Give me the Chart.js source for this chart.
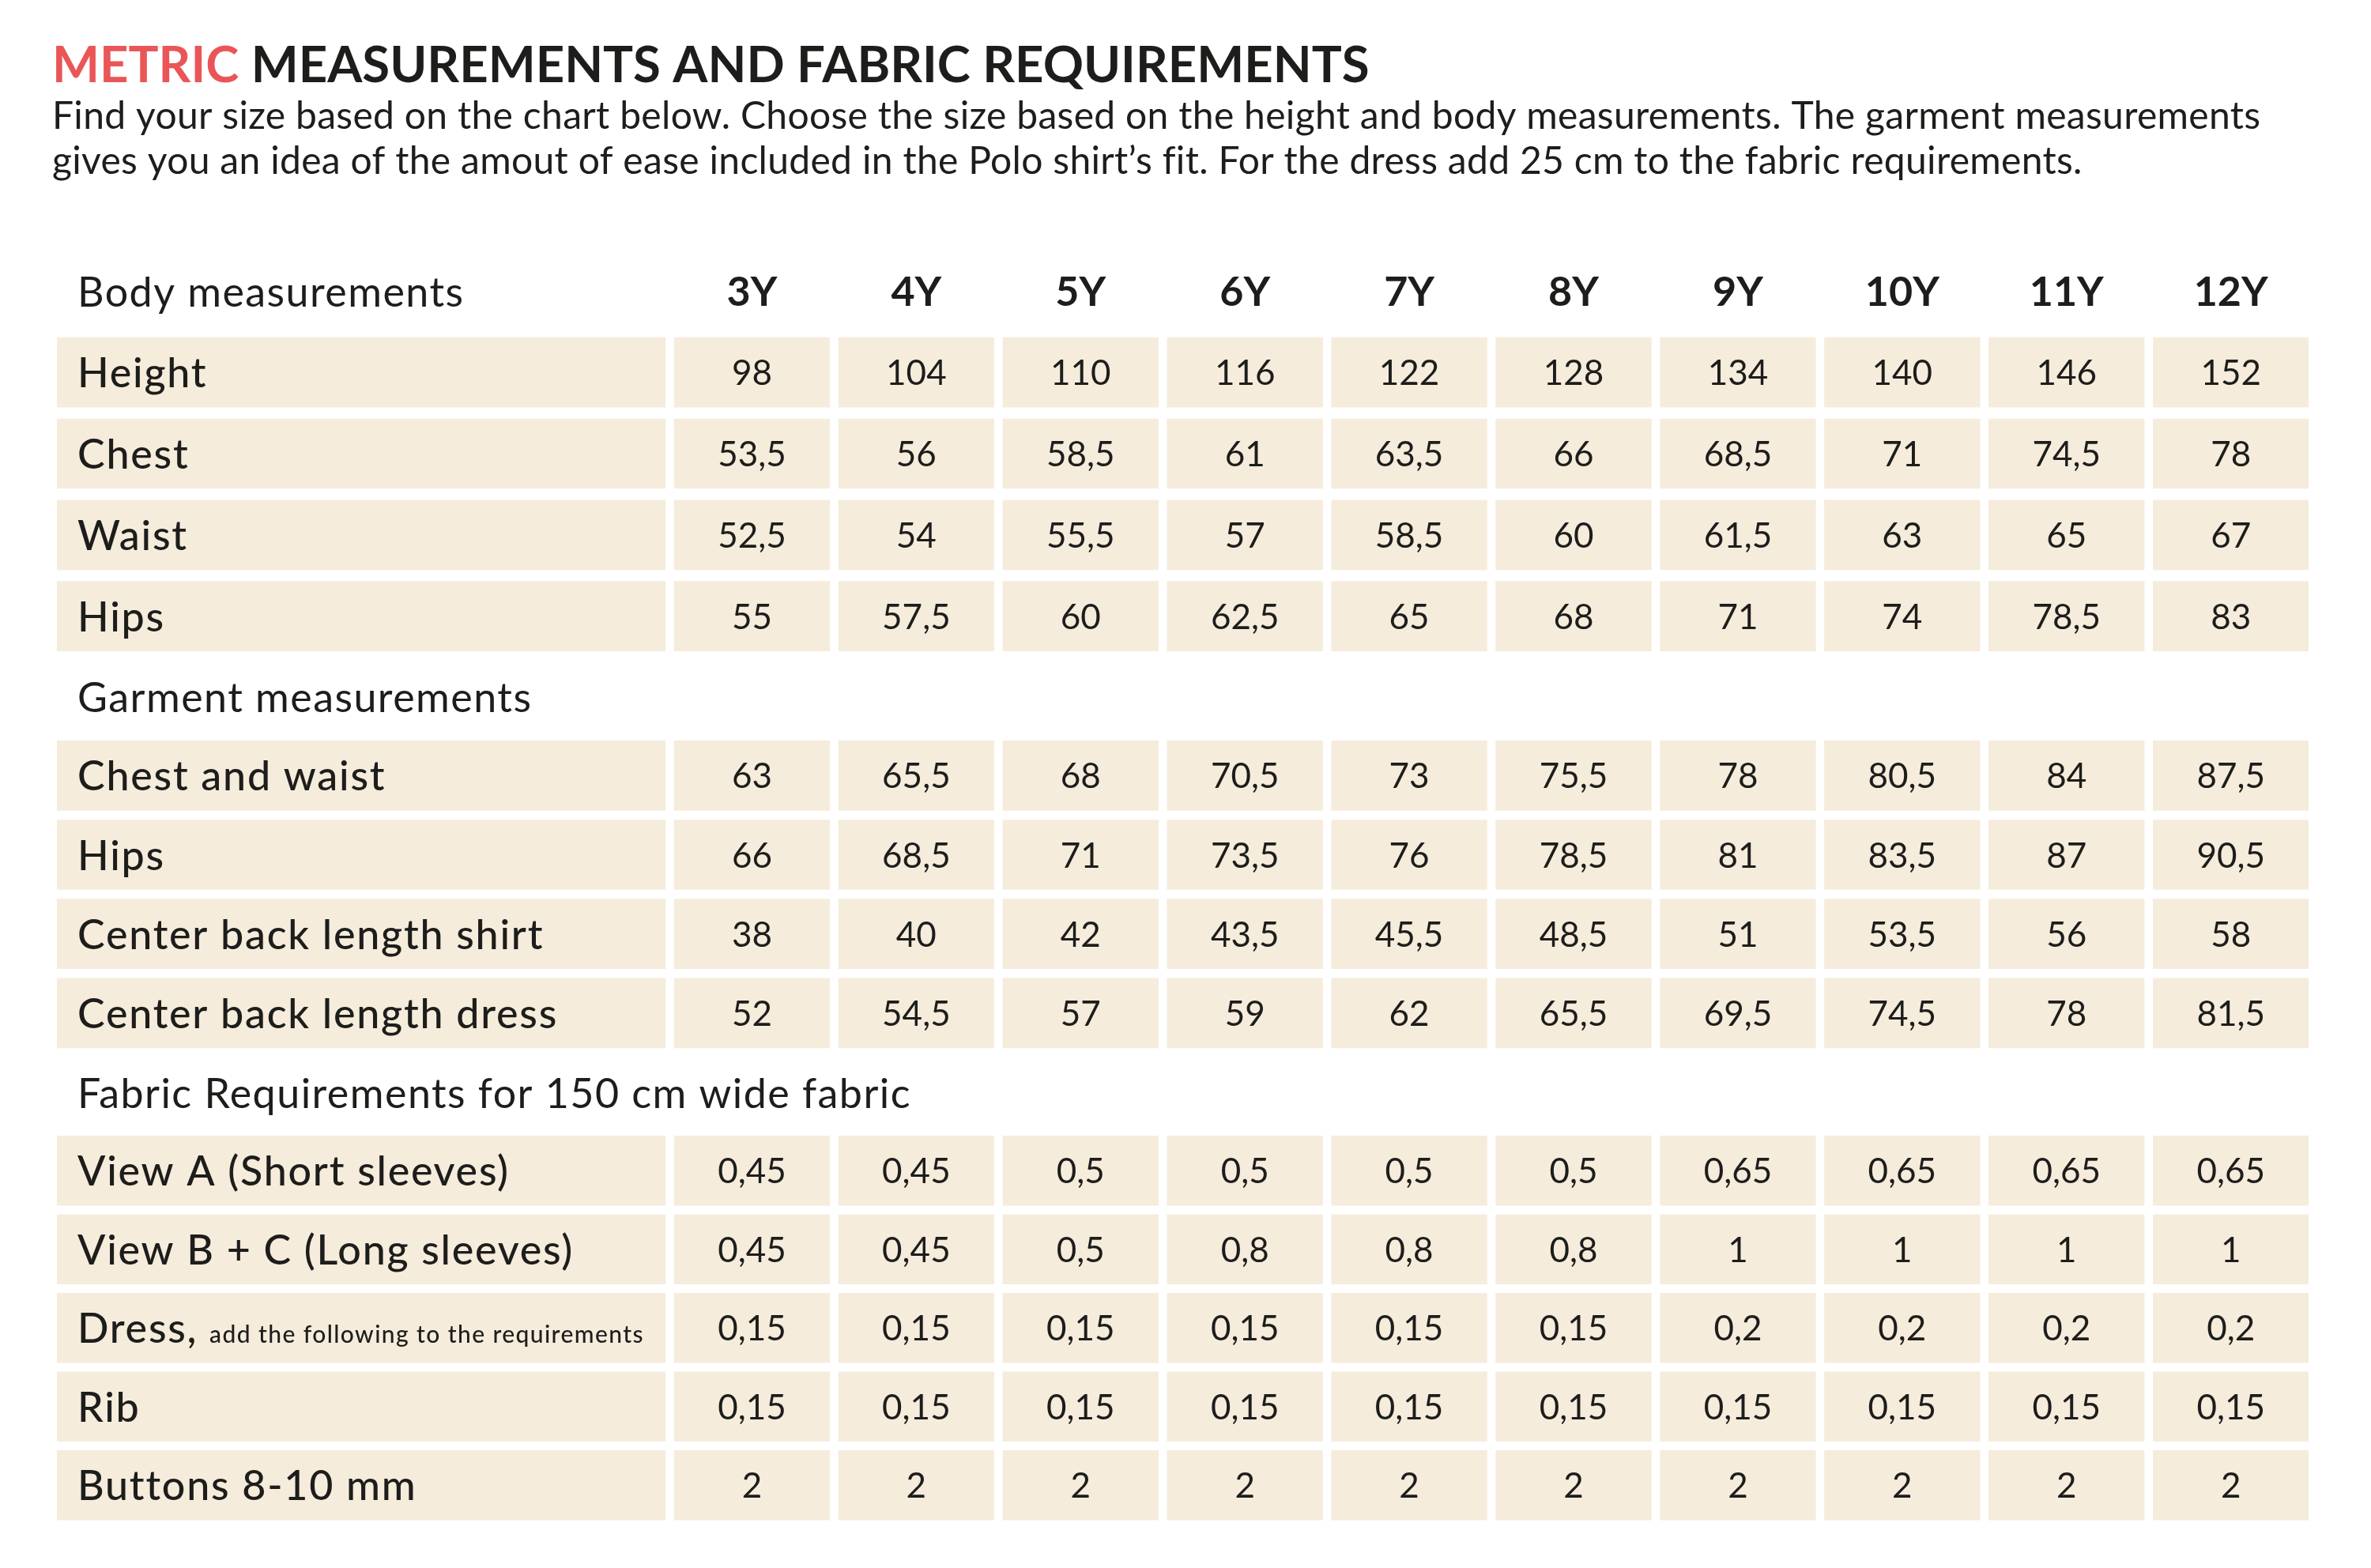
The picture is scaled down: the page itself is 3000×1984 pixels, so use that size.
<!DOCTYPE html>
<html>
<head>
<meta charset="utf-8">
<title>Metric measurements and fabric requirements</title>
<script src="https://cdn.jsdelivr.net/npm/chart.js@4.4.1/dist/chart.umd.min.js"></script>
<style>
  html, body { margin: 0; padding: 0; background: #fff; }
  #wrap { position: relative; width: 3000px; height: 1984px; }
</style>
</head>
<body>
<div id="wrap"><canvas id="sizeChart"></canvas></div>
<script>
// sizes (column headers)
var sizes = ['3Y', '4Y', '5Y', '6Y', '7Y', '8Y', '9Y', '10Y', '11Y', '12Y'];

// body measurements (cm)
var height = [98, 104, 110, 116, 122, 128, 134, 140, 146, 152];
var chest  = [53.5, 56, 58.5, 61, 63.5, 66, 68.5, 71, 74.5, 78];
var waist  = [52.5, 54, 55.5, 57, 58.5, 60, 61.5, 63, 65, 67];
var hips   = [55, 57.5, 60, 62.5, 65, 68, 71, 74, 78.5, 83];

// garment measurements (cm)
var garmentChestWaist = [63, 65.5, 68, 70.5, 73, 75.5, 78, 80.5, 84, 87.5];
var garmentHips       = [66, 68.5, 71, 73.5, 76, 78.5, 81, 83.5, 87, 90.5];
var backLengthShirt   = [38, 40, 42, 43.5, 45.5, 48.5, 51, 53.5, 56, 58];
var backLengthDress   = [52, 54.5, 57, 59, 62, 65.5, 69.5, 74.5, 78, 81.5];

// fabric requirements (m, 150 cm wide fabric)
var viewA   = [0.45, 0.45, 0.5, 0.5, 0.5, 0.5, 0.65, 0.65, 0.65, 0.65];
var viewBC  = [0.45, 0.45, 0.5, 0.8, 0.8, 0.8, 1, 1, 1, 1];
var dress   = [0.15, 0.15, 0.15, 0.15, 0.15, 0.15, 0.2, 0.2, 0.2, 0.2];
var rib     = [0.15, 0.15, 0.15, 0.15, 0.15, 0.15, 0.15, 0.15, 0.15, 0.15];
var buttons = [2, 2, 2, 2, 2, 2, 2, 2, 2, 2];

// three blocks, each on its own stacked category axis
var sections = [
  { id: 'yA', weight: 514, rows: [
    { head: 'Body measurements', sizes: true },
    { label: 'Height', values: height },
    { label: 'Chest', values: chest },
    { label: 'Waist', values: waist },
    { label: 'Hips', values: hips }
  ] },
  { id: 'yB', weight: 501, rows: [
    { head: 'Garment measurements' },
    { label: 'Chest and waist', values: garmentChestWaist },
    { label: 'Hips', values: garmentHips },
    { label: 'Center back length shirt', values: backLengthShirt },
    { label: 'Center back length dress', values: backLengthDress }
  ] },
  { id: 'yC', weight: 597, rows: [
    { head: 'Fabric Requirements for 150 cm wide fabric' },
    { label: 'View A (Short sleeves)', values: viewA },
    { label: 'View B + C (Long sleeves)', values: viewBC },
    { label: 'Dress,', note: 'add the following to the requirements', values: dress },
    { label: 'Rib', values: rib },
    { label: 'Buttons 8-10 mm', values: buttons }
  ] }
];

var CELL = '#f5ecdc';
var INK = '#1d1d1b';
var RED = '#ea5657';
var FONT = 'Lato, "Open Sans", sans-serif';
var gap = 0.027;        // half gap between cells, in column units
var labelStart = -3.73; // first (label) column starts here
var cellHeight = 88;

function fmt(v) { return String(v).replace('.', ','); }

// per block: one dataset for the label column, one for each size column
var datasets = [];
sections.forEach(function (sec) {
  datasets.push({
    yAxisID: sec.id,
    data: sec.rows.map(function (r) { return r.values ? [labelStart, -gap] : null; }),
    backgroundColor: CELL,
    grouped: false
  });
  sizes.forEach(function (s, c) {
    datasets.push({
      label: s,
      yAxisID: sec.id,
      data: sec.rows.map(function (r) { return r.values ? [c + gap, c + 1 - gap] : null; }),
      backgroundColor: CELL,
      grouped: false
    });
  });
});

var scales = {
  x: { type: 'linear', min: labelStart, max: sizes.length - gap, display: false }
};
sections.forEach(function (sec, k) {
  scales[sec.id] = {
    type: 'category',
    labels: sec.rows.map(function (r) { return r.label || r.head; }),
    offset: true,
    position: 'left',
    stack: 'table',
    stackWeight: sec.weight,
    weight: sections.length - k,
    display: false
  };
});

var tableText = {
  id: 'tableText',
  afterDraw: function (chart) {
    var ctx = chart.ctx;
    var xs = chart.scales.x;
    var textX = xs.getPixelForValue(labelStart) + 26;
    ctx.save();
    ctx.fillStyle = INK;
    ctx.textBaseline = 'alphabetic';

    // heading
    ctx.textAlign = 'left';
    ctx.font = 'bold 63.5px ' + FONT;
    ctx.fillStyle = RED;
    ctx.fillText('METRIC', 66, 104);
    var w = ctx.measureText('METRIC ').width;
    ctx.fillStyle = INK;
    ctx.fillText('MEASUREMENTS AND FABRIC REQUIREMENTS', 66 + w, 104);
    ctx.font = '48px ' + FONT;
    ctx.letterSpacing = '0.3px';
    ctx.fillText('Find your size based on the chart below. Choose the size based on the height and body measurements. The garment measurements', 66, 163);
    ctx.fillText('gives you an idea of the amout of ease included in the Polo shirt\u2019s fit. For the dress add 25 cm to the fabric requirements.', 66, 220);

    sections.forEach(function (sec) {
      var ys = chart.scales[sec.id];
      sec.rows.forEach(function (r, i) {
        var cy = ys.getPixelForValue(i);
        ctx.textAlign = 'left';
        if (r.head) {
          ctx.font = '52px ' + FONT;
          ctx.letterSpacing = '1.45px';
          ctx.fillText(r.head, textX, cy + 20);
          if (r.sizes) {
            ctx.textAlign = 'center';
            ctx.letterSpacing = '0px';
            ctx.font = 'bold 52px ' + FONT;
            sizes.forEach(function (s, c) {
              ctx.fillText(s, xs.getPixelForValue(c + 0.5), cy + 19);
            });
          }
          return;
        }
        ctx.font = '500 52px ' + FONT;
        ctx.letterSpacing = '1.75px';
        ctx.fillText(r.label, textX, cy + 19);
        if (r.note) {
          var lw = ctx.measureText(r.label + ' ').width;
          ctx.font = '500 30px ' + FONT;
          ctx.letterSpacing = '1.4px';
          ctx.fillText(r.note, textX + lw, cy + 19);
        }
        ctx.letterSpacing = '0px';
        ctx.textAlign = 'center';
        ctx.font = '44px ' + FONT;
        r.values.forEach(function (v, c) {
          ctx.fillText(fmt(v), xs.getPixelForValue(c + 0.5), cy + 16);
        });
      });
    });
    ctx.restore();
  }
};

new Chart(document.getElementById('sizeChart'), {
  type: 'bar',
  data: { datasets: datasets },
  options: {
    indexAxis: 'y',
    responsive: true,
    maintainAspectRatio: false,
    devicePixelRatio: 1,
    animation: false,
    categoryPercentage: 1,
    barPercentage: 1,
    maxBarThickness: cellHeight,
    layout: { padding: { left: 72, right: 79, top: 317, bottom: 55 } },
    scales: scales,
    plugins: {
      legend: { display: false },
      tooltip: { enabled: false }
    }
  },
  plugins: [tableText]
});
</script>
</body>
</html>
